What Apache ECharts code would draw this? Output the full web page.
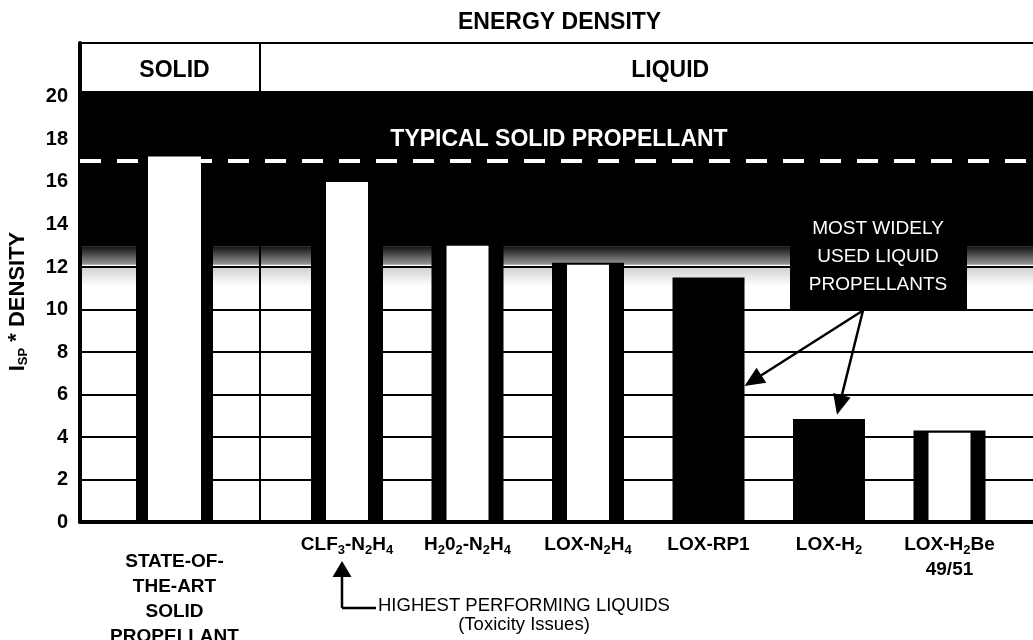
<!DOCTYPE html>
<html>
<head>
<meta charset="utf-8">
<script src="https://cdn.jsdelivr.net/npm/echarts@6/dist/echarts.min.js"></script>
<style>
html, body { margin: 0; padding: 0; background: #fff; }
#chart { width: 1033px; height: 640px; }
</style>
</head>
<body>
<div id="chart"></div>
<script>
// categories (underscore marks a subscript digit)
const solidCategories = ['STATE-OF-\nTHE-ART\nSOLID\nPROPELLANT']
const liquidCategories = ['CLF_3-N_2H_4', 'H_20_2-N_2H_4', 'LOX-N_2H_4', 'LOX-RP1', 'LOX-H_2', 'LOX-H_2Be\n49/51']

// Isp * density
const solidOuter = [17.2]
const solidInner = [17.2]
const liquidOuter = [16.0, 13.2, 12.2, 11.5, 4.85, 4.3]   // black bar / side strips
const liquidInner = [16.0, 13.0, 12.1, null, null, 4.2]   // white core (null = solid black bar)

const typicalSolid = 17.0
const yTicks = [0, 2, 4, 6, 8, 10, 12, 14, 16, 18, 20]

const HEADER_BOTTOM = 20.24
const HEADER_TOP = 22.54
const BAND_BOTTOM = 12.95

const FONT = "'Liberation Sans', Arial, sans-serif"

const chart = echarts.init(document.getElementById('chart'))

const yBase = { type: 'value', min: 0, max: HEADER_TOP, interval: 2 }
const subRich = {
  s: { fontSize: 13, fontWeight: 'bold', fontFamily: FONT, color: '#000', verticalAlign: 'bottom', lineHeight: 13 }
}
const subFmt = v => v.replace(/_(\d)/g, '{s|$1}')

const option = {
  animation: false,
  backgroundColor: '#fff',
  title: {
    text: 'ENERGY DENSITY',
    left: 453,
    top: 6,
    textStyle: { fontSize: 23, fontWeight: 'bold', fontFamily: FONT, color: '#000' }
  },
  grid: [
    { left: 80, right: -5, top: 43, bottom: 118, outerBoundsMode: 'none' },
    { left: 89, width: 171, top: 43, bottom: 118, outerBoundsMode: 'none' },
    { left: 286.75, right: 23.25, top: 43, bottom: 118, outerBoundsMode: 'none' }
  ],
  xAxis: [
    { gridIndex: 0, type: 'category', data: [''], z: 3,
      axisLine: { show: true, onZero: false, lineStyle: { color: '#000', width: 4 } },
      axisTick: { show: false }, axisLabel: { show: false }, splitLine: { show: false } },
    { gridIndex: 1, type: 'category', data: solidCategories,
      axisLine: { show: false }, axisTick: { show: false },
      axisLabel: { margin: 27, lineHeight: 25, fontSize: 19, fontWeight: 'bold', fontFamily: FONT, color: '#000' } },
    { gridIndex: 1, type: 'category', data: solidCategories, show: false },
    { gridIndex: 2, type: 'category', data: liquidCategories,
      axisLine: { show: false }, axisTick: { show: false },
      axisLabel: { interval: 0, margin: 10, lineHeight: 25, fontSize: 19, fontWeight: 'bold', fontFamily: FONT,
        color: '#000', formatter: subFmt, rich: subRich } },
    { gridIndex: 2, type: 'category', data: liquidCategories, show: false }
  ],
  yAxis: [
    { ...yBase, gridIndex: 0, position: 'left', z: 3,
      axisLine: { show: true, lineStyle: { color: '#000', width: 4 } },
      axisTick: { show: false }, splitLine: { show: false },
      axisLabel: { margin: 12, color: '#000', fontSize: 20, fontWeight: 'bold', fontFamily: FONT,
        padding: [8, 0, 0, 0],
        formatter: v => (yTicks.indexOf(v) >= 0 ? String(v) : '') },
      name: 'I{sp|SP}{a| *} DENSITY', nameLocation: 'middle', nameRotate: 90, nameGap: 50,
      nameTextStyle: { fontSize: 22, fontWeight: 'bold', fontFamily: FONT, color: '#000', lineHeight: 24,
        padding: [0, 38, 0, 0],
        rich: {
          sp: { fontSize: 13, fontWeight: 'bold', fontFamily: FONT, color: '#000', verticalAlign: 'bottom', lineHeight: 13 },
          a: { fontSize: 22, fontWeight: 'bold', fontFamily: FONT, color: '#000', verticalAlign: 'top', lineHeight: 24 }
        } } },
    { ...yBase, gridIndex: 0, position: 'right',
      axisLine: { show: false }, axisTick: { show: false }, axisLabel: { show: false },
      splitLine: { show: true, lineStyle: { color: '#000', width: 2 } } },
    { ...yBase, gridIndex: 1, position: 'right', z: 3,
      axisLine: { show: true, lineStyle: { color: '#000', width: 2 } },
      axisTick: { show: false }, axisLabel: { show: false }, splitLine: { show: false } },
    { ...yBase, gridIndex: 2, show: false }
  ],
  series: [
    {
      type: 'line', xAxisIndex: 0, yAxisIndex: 0, data: [], silent: true,
      markArea: {
        silent: true,
        label: { show: false },
        data: [
          [{ yAxis: HEADER_BOTTOM, itemStyle: { color: '#fff', borderColor: '#000', borderWidth: 2 } }, { yAxis: HEADER_TOP }],
          [{ yAxis: BAND_BOTTOM, itemStyle: { color: '#000' } }, { yAxis: HEADER_BOTTOM + 0.02 }],
          [{ yAxis: 12.1, itemStyle: { color: new echarts.graphic.LinearGradient(0, 0, 0, 1, [
            { offset: 0, color: 'rgba(0,0,0,0.92)' }, { offset: 1, color: 'rgba(0,0,0,0.4)' }]) } },
           { yAxis: BAND_BOTTOM }],
          [{ yAxis: 11.1, itemStyle: { color: new echarts.graphic.LinearGradient(0, 0, 0, 1, [
            { offset: 0, color: 'rgba(0,0,0,0.18)' }, { offset: 1, color: 'rgba(0,0,0,0)' }]) } },
           { yAxis: 11.95 }]
        ]
      },
      markLine: {
        silent: true, symbol: 'none',
        lineStyle: { type: [21, 16], color: '#fff', width: 4 },
        label: { show: true, position: 'insideMiddleTop', distance: 10, formatter: 'TYPICAL SOLID PROPELLANT',
          color: '#fff', fontSize: 23, fontWeight: 'bold', fontFamily: FONT },
        data: [{ yAxis: typicalSolid }]
      }
    },
    {
      type: 'bar', xAxisIndex: 1, yAxisIndex: 2, data: solidOuter, barWidth: 77,
      itemStyle: { color: '#000' },
      markArea: {
        silent: true,
        itemStyle: { color: 'rgba(0,0,0,0)' },
        label: { show: true, position: 'inside', offset: [0, 3], color: '#000', fontSize: 23, fontWeight: 'bold', fontFamily: FONT },
        data: [[{ yAxis: HEADER_BOTTOM, name: 'SOLID' }, { yAxis: HEADER_TOP }]]
      }
    },
    { type: 'bar', xAxisIndex: 2, yAxisIndex: 2, data: solidInner, barWidth: 53, itemStyle: { color: '#fff' } },
    {
      type: 'bar', xAxisIndex: 3, yAxisIndex: 3, data: liquidOuter, barWidth: 72,
      itemStyle: { color: '#000' },
      markArea: {
        silent: true,
        itemStyle: { color: 'rgba(0,0,0,0)' },
        label: { show: true, position: 'inside', offset: [22, 3], color: '#000', fontSize: 23, fontWeight: 'bold', fontFamily: FONT },
        data: [[{ yAxis: HEADER_BOTTOM, name: 'LIQUID' }, { yAxis: HEADER_TOP }]]
      }
    },
    { type: 'bar', xAxisIndex: 4, yAxisIndex: 3, data: liquidInner, barWidth: 42, itemStyle: { color: '#fff' } }
  ]
}

chart.setOption(option)

// annotations placed from the axes
function arrow(x1, y1, x2, y2, head, half) {
  const dx = x2 - x1, dy = y2 - y1, len = Math.hypot(dx, dy)
  const ux = dx / len, uy = dy / len
  const bx = x2 - ux * head, by = y2 - uy * head
  return [
    { type: 'line', z: 10, shape: { x1: x1, y1: y1, x2: bx, y2: by }, style: { stroke: '#000', lineWidth: 2.5 } },
    { type: 'polygon', z: 10, shape: { points: [[x2, y2], [bx - uy * half, by + ux * half], [bx + uy * half, by - ux * half]] },
      style: { fill: '#000' } }
  ]
}
const yOf = v => chart.convertToPixel({ yAxisIndex: 0 }, v)
const liq = (i, v) => chart.convertToPixel({ xAxisIndex: 3, yAxisIndex: 3 }, [i, v])

const boxBottom = yOf(10)
const boxTop = yOf(14)
const from = [863, boxBottom + 1]
const rp1 = liq(3, 6.4)
const h2 = liq(4, liquidOuter[4] + 0.2)
const clf = liq(0, 0)

const graphics = [
  { type: 'rect', z: 10, shape: { x: 790, y: boxTop, width: 177, height: boxBottom - boxTop }, style: { fill: '#000' } },
  { type: 'text', z: 11, x: 878, y: 257,
    style: { text: 'MOST WIDELY\nUSED LIQUID\nPROPELLANTS', fill: '#fff', font: '19px ' + FONT,
      lineHeight: 28, align: 'center', verticalAlign: 'middle' } }
]
  .concat(arrow(from[0], from[1], rp1[0] + 36, rp1[1], 20, 9))
  .concat(arrow(from[0], from[1], h2[0] + 8, h2[1], 20, 9))
  .concat(arrow(clf[0] - 5, 608, clf[0] - 5, 561, 16, 9.5))
  .concat([
    { type: 'line', z: 10, shape: { x1: clf[0] - 5, y1: 608, x2: 376, y2: 608 }, style: { stroke: '#000', lineWidth: 2.5 } },
    { type: 'text', z: 10, x: 378, y: 606,
      style: { text: 'HIGHEST PERFORMING LIQUIDS', fill: '#000', font: '18.5px ' + FONT, align: 'left', verticalAlign: 'middle' } },
    { type: 'text', z: 10, x: 524, y: 625,
      style: { text: '(Toxicity Issues)', fill: '#000', font: '18.5px ' + FONT, align: 'center', verticalAlign: 'middle' } }
  ])

chart.setOption({ graphic: graphics })
</script>
</body>
</html>
